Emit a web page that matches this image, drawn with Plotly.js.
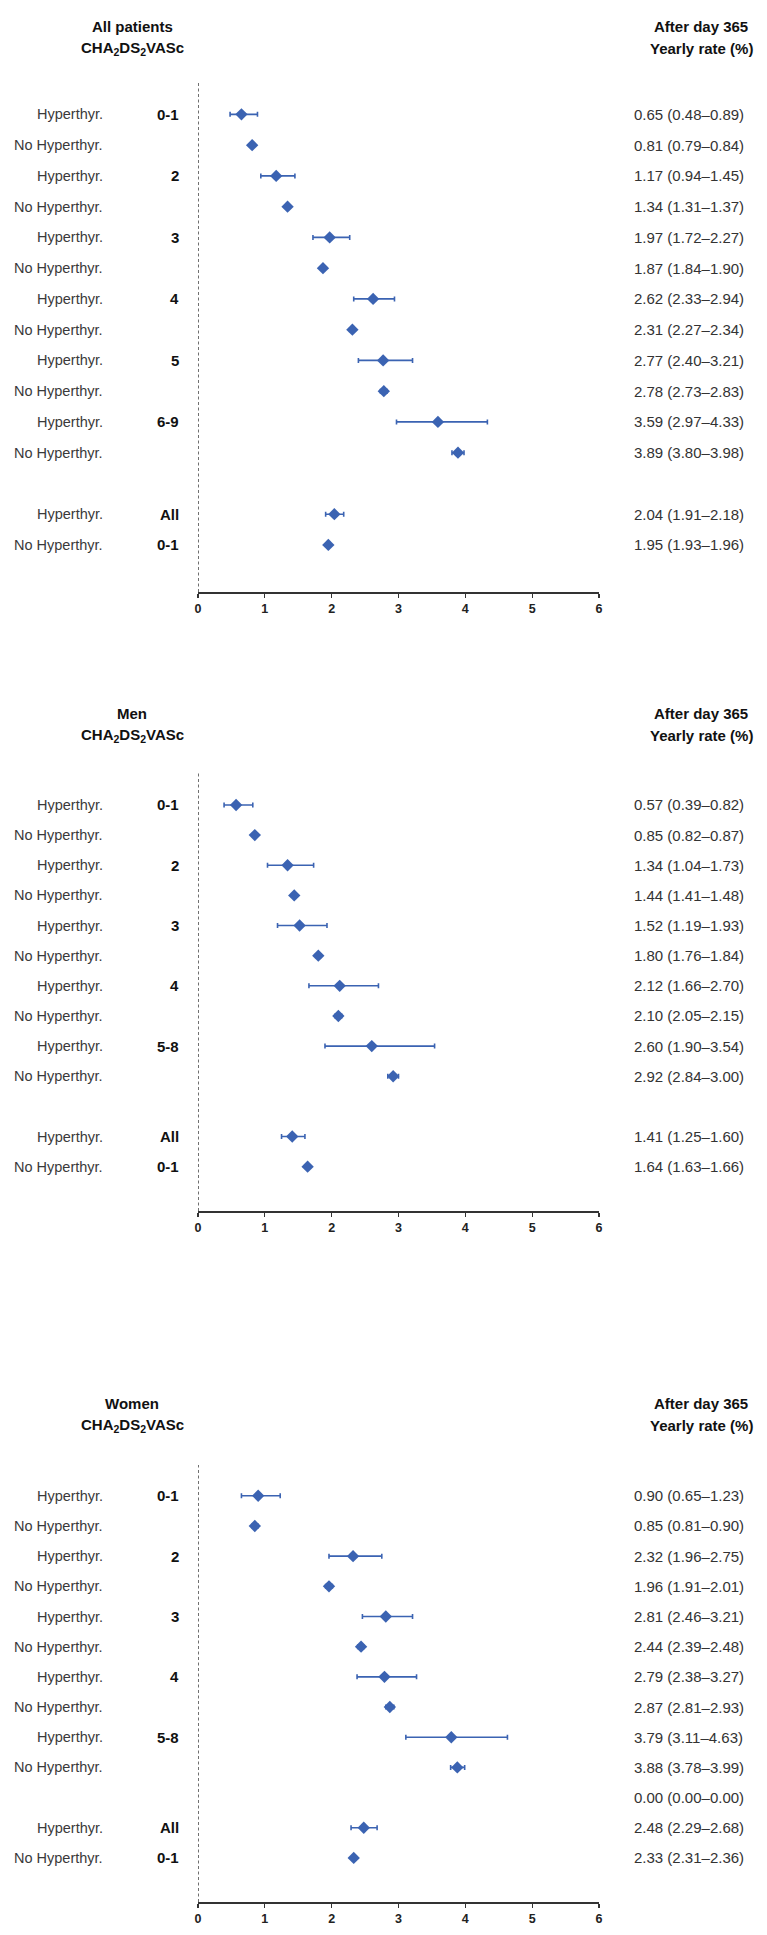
<!DOCTYPE html>
<html>
<head>
<meta charset="utf-8">
<script src="https://cdn.plot.ly/plotly-3.0.1.min.js"></script>
<style>html,body{margin:0;padding:0;background:#fff;}#chart{width:767px;height:1935px;}</style>
</head>
<body>
<div id="chart"></div>
<script>
// ---------- DATA ----------
const panelTitles = ['All patients', 'Men', 'Women'];

const rowLabelsAll = ['Hyperthyr.','No Hyperthyr.','Hyperthyr.','No Hyperthyr.','Hyperthyr.','No Hyperthyr.','Hyperthyr.','No Hyperthyr.','Hyperthyr.','No Hyperthyr.','Hyperthyr.','No Hyperthyr.','','Hyperthyr.','No Hyperthyr.'];
const groupsAll = ['0-1','','2','','3','','4','','5','','6-9','','','All','0-1'];
const rateAll = [0.65,0.81,1.17,1.34,1.97,1.87,2.62,2.31,2.77,2.78,3.59,3.89,null,2.04,1.95];
const loAll   = [0.48,0.79,0.94,1.31,1.72,1.84,2.33,2.27,2.40,2.73,2.97,3.80,null,1.91,1.93];
const hiAll   = [0.89,0.84,1.45,1.37,2.27,1.90,2.94,2.34,3.21,2.83,4.33,3.98,null,2.18,1.96];

const rowLabelsMen = ['Hyperthyr.','No Hyperthyr.','Hyperthyr.','No Hyperthyr.','Hyperthyr.','No Hyperthyr.','Hyperthyr.','No Hyperthyr.','Hyperthyr.','No Hyperthyr.','','Hyperthyr.','No Hyperthyr.'];
const groupsMen = ['0-1','','2','','3','','4','','5-8','','','All','0-1'];
const rateMen = [0.57,0.85,1.34,1.44,1.52,1.80,2.12,2.10,2.60,2.92,null,1.41,1.64];
const loMen   = [0.39,0.82,1.04,1.41,1.19,1.76,1.66,2.05,1.90,2.84,null,1.25,1.63];
const hiMen   = [0.82,0.87,1.73,1.48,1.93,1.84,2.70,2.15,3.54,3.00,null,1.60,1.66];

const rowLabelsWomen = ['Hyperthyr.','No Hyperthyr.','Hyperthyr.','No Hyperthyr.','Hyperthyr.','No Hyperthyr.','Hyperthyr.','No Hyperthyr.','Hyperthyr.','No Hyperthyr.','','Hyperthyr.','No Hyperthyr.'];
const groupsWomen = ['0-1','','2','','3','','4','','5-8','','','All','0-1'];
const rateWomen = [0.90,0.85,2.32,1.96,2.81,2.44,2.79,2.87,3.79,3.88,0.00,2.48,2.33];
const loWomen   = [0.65,0.81,1.96,1.91,2.46,2.39,2.38,2.81,3.11,3.78,0.00,2.29,2.31];
const hiWomen   = [1.23,0.90,2.75,2.01,3.21,2.48,3.27,2.93,4.63,3.99,0.00,2.68,2.36];

const xTicks = [0,1,2,3,4,5,6];

// ---------- LAYOUT ----------
const W = 767, H = 1935;
const py = p => 1 - p / H;
const px = p => p / W;
const FONT = 'Liberation Sans, Arial, Helvetica, sans-serif';
const BLUE = '#3B63B2';

const panels = [
  {title: panelTitles[0], labels: rowLabelsAll, groups: groupsAll, rate: rateAll, lo: loAll, hi: hiAll,
   top: 83, bottom: 592, yr: [15.53, -1.02], t1: 27, t2: 49},
  {title: panelTitles[1], labels: rowLabelsMen, groups: groupsMen, rate: rateMen, lo: loMen, hi: hiMen,
   top: 773, bottom: 1211, yr: [13.47, -1.06], t1: 713, t2: 735},
  {title: panelTitles[2], labels: rowLabelsWomen, groups: groupsWomen, rate: rateWomen, lo: loWomen, hi: hiWomen,
   top: 1465, bottom: 1902, yr: [13.46, -1.02], t1: 1403, t2: 1425}
];

const data = [];
const annotations = [];
const shapes = [];
const layout = {
  width: W, height: H,
  margin: {l: 0, r: 0, t: 0, b: 0},
  paper_bgcolor: '#fff', plot_bgcolor: '#fff',
  showlegend: false,
  font: {family: FONT, color: '#333'}
};

const fmt = v => v.toFixed(2);

panels.forEach((p, k) => {
  const sfx = k === 0 ? '' : String(k + 1);
  const xa = 'x' + sfx, ya = 'y' + sfx;
  const idx = p.rate.map((v, i) => i).filter(i => p.rate[i] !== null && p.rate[i] > 0);
  data.push({
    type: 'scatter', mode: 'markers', xaxis: xa, yaxis: ya,
    x: idx.map(i => p.rate[i]),
    y: idx,
    marker: {symbol: 'diamond', size: 9.5, color: BLUE},
    error_x: {type: 'data', symmetric: false,
      array: idx.map(i => p.hi[i] - p.rate[i]),
      arrayminus: idx.map(i => p.rate[i] - p.lo[i]),
      color: BLUE, thickness: 1.6, width: 2.5},
    hoverinfo: 'x'
  });
  layout['xaxis' + sfx] = {
    domain: [px(198), px(599)], anchor: ya, range: [0, 6],
    tickvals: xTicks, ticktext: xTicks.map(String),
    showline: true, linecolor: '#333', linewidth: 1.5,
    ticks: 'outside', ticklen: 4, tickcolor: '#333', tickwidth: 1.2,
    tickfont: {family: FONT, size: 12.5, color: '#222', weight: 'bold'},
    showgrid: false, zeroline: false, fixedrange: true
  };
  layout['yaxis' + sfx] = {
    domain: [py(p.bottom), py(p.top)], anchor: xa, range: p.yr,
    showline: false, showticklabels: false, showgrid: false, zeroline: false, ticks: '', fixedrange: true
  };
  shapes.push({type: 'line', xref: xa, x0: 0, x1: 0, yref: ya + ' domain', y0: 0, y1: 1,
    line: {color: '#111', width: 1.2, dash: '3px,2.5px'}});
  // headers
  annotations.push({xref: 'paper', yref: 'paper', x: px(132), y: py(p.t1), xanchor: 'center', yanchor: 'middle',
    text: '<b>' + p.title + '</b>', showarrow: false, font: {size: 15, color: '#111'}});
  annotations.push({xref: 'paper', yref: 'paper', x: px(132), y: py(p.t2), xanchor: 'center', yanchor: 'middle',
    text: '<b>CHA<sub>2</sub>DS<sub>2</sub>VASc</b>', showarrow: false, font: {size: 15, color: '#111'}});
  annotations.push({xref: 'paper', yref: 'paper', x: px(701), y: py(p.t1), xanchor: 'center', yanchor: 'middle',
    text: '<b>After day 365</b>', showarrow: false, font: {size: 15, color: '#111'}});
  annotations.push({xref: 'paper', yref: 'paper', x: px(701), y: py(p.t2), xanchor: 'center', yanchor: 'middle',
    text: '<b>Yearly rate (%)</b>', showarrow: false, font: {size: 15, color: '#111'}});
  // rows
  p.labels.forEach((lab, i) => {
    if (lab) annotations.push({xref: 'paper', yref: ya, x: px(105), y: i, xanchor: 'right', yanchor: 'middle',
      text: lab, showarrow: false, font: {size: 14.5, color: '#3a3a3a'}});
    if (p.groups[i]) annotations.push({xref: 'paper', yref: ya, x: px(181), y: i, xanchor: 'right', yanchor: 'middle',
      text: '<b>' + p.groups[i] + '</b>', showarrow: false, font: {size: 15, color: '#111'}});
    if (p.rate[i] !== null) annotations.push({xref: 'paper', yref: ya, x: px(632), y: i, xanchor: 'left', yanchor: 'middle',
      text: fmt(p.rate[i]) + ' (' + fmt(p.lo[i]) + '\u2013' + fmt(p.hi[i]) + ')', showarrow: false,
      font: {size: 15, color: '#333'}});
  });
});

layout.annotations = annotations;
layout.shapes = shapes;

Plotly.newPlot('chart', data, layout, {displayModeBar: false, staticPlot: true});
</script>
</body>
</html>
